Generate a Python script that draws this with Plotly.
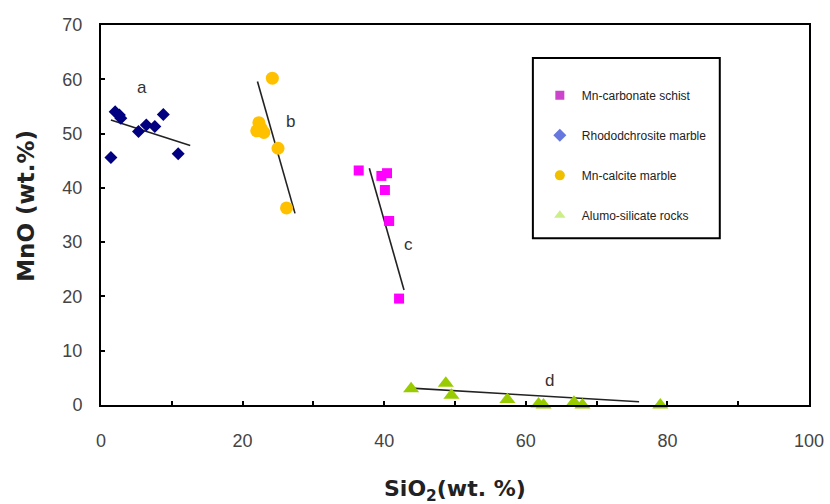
import plotly.graph_objects as go

# Data
rhodo_x = [1.4, 2.0, 2.6, 2.8, 5.3, 6.4, 7.6, 8.8, 10.9]
rhodo_y = [45.6, 54.0, 53.4, 52.8, 50.4, 51.6, 51.3, 53.5, 46.3]

calcite_x = [24.2, 22.0, 22.3, 22.6, 23.0, 25.0, 26.2]
calcite_y = [60.2, 50.5, 52.0, 51.0, 50.2, 47.3, 36.3]

schist_x = [36.4, 39.6, 40.4, 40.1, 40.7, 42.1]
schist_y = [43.2, 42.2, 42.7, 39.6, 33.9, 19.6]

alumo_x = [43.8, 48.7, 49.5, 57.4, 61.8, 62.5, 66.8, 68.0, 79.0]
alumo_y = [3.0, 4.0, 1.8, 1.0, 0.2, 0.0, 0.5, 0.0, 0.0]

# Trend lines (end points)
trend_a_x = [1.4, 12.6]
trend_a_y = [52.5, 47.8]
trend_b_x = [22.1, 27.4]
trend_b_y = [59.6, 35.3]
trend_c_x = [37.9, 42.8]
trend_c_y = [43.6, 21.2]
trend_d_x = [43.8, 76.0]
trend_d_y = [3.1, 0.6]

labels_text = ["a", "b", "c", "d"]
labels_x = [5.8, 26.8, 43.4, 63.3]
labels_y = [58.5, 52.2, 29.5, 4.6]

legend_names = ["Mn-carbonate schist", "Rhododchrosite marble",
                "Mn-calcite marble", "Alumo-silicate rocks"]

x_title = "<b>SiO<sub>2</sub>(wt. %)</b>"
y_title = "<b>MnO (wt.%)</b>"

fig = go.Figure()

# trend lines
for tx, ty in [(trend_a_x, trend_a_y), (trend_b_x, trend_b_y),
               (trend_c_x, trend_c_y), (trend_d_x, trend_d_y)]:
    fig.add_trace(go.Scatter(x=tx, y=ty, mode="lines",
                             line=dict(color="#222222", width=1.6),
                             showlegend=False, hoverinfo="skip"))

fig.add_trace(go.Scatter(x=schist_x, y=schist_y, mode="markers",
                         marker=dict(symbol="square", size=10, color="#ff00ff"),
                         showlegend=False))
fig.add_trace(go.Scatter(x=rhodo_x, y=rhodo_y, mode="markers",
                         marker=dict(symbol="diamond", size=10, color="#000080"),
                         showlegend=False))
fig.add_trace(go.Scatter(x=calcite_x, y=calcite_y, mode="markers",
                         marker=dict(symbol="circle", size=13, color="#ffc000"),
                         showlegend=False))
fig.add_trace(go.Scatter(x=alumo_x, y=alumo_y, mode="markers",
                         marker=dict(symbol="triangle-up", size=14, color="#99cc00"),
                         showlegend=False, cliponaxis=False))

# legend entries
leg_styles = [("square", "#cc44cc", 9), ("diamond", "#6677e0", 10),
              ("circle", "#f0c000", 10), ("triangle-up", "#ccee88", 10)]
for i, (name, (sym, col, sz)) in enumerate(zip(legend_names, leg_styles)):
    fig.add_trace(go.Scatter(x=[None], y=[None], mode="markers", name=name,
                             legendgroup=f"g{i}",
                             marker=dict(symbol=sym, size=sz, color=col)))

for t, lx, ly in zip(labels_text, labels_x, labels_y):
    fig.add_annotation(x=lx, y=ly, text=t, showarrow=False,
                       font=dict(family="Liberation Sans, Arial", size=17, color="#333333"))

# axis titles
fig.add_annotation(xref="paper", yref="paper", x=0.5, y=-0.224, text=x_title,
                   showarrow=False, xanchor="center", yanchor="middle",
                   font=dict(family="DejaVu Sans", size=22, color="#222222"))
fig.add_annotation(xref="paper", yref="paper", x=-0.106, y=0.524, text=y_title,
                   showarrow=False, xanchor="center", yanchor="middle", textangle=-90,
                   font=dict(family="DejaVu Sans", size=23, color="#222222"))

# legend frame
fig.add_shape(type="rect", xref="paper", yref="paper",
              x0=0.610, x1=0.874, y0=0.439, y1=0.913,
              line=dict(color="black", width=2), fillcolor="rgba(0,0,0,0)")

axis_common = dict(showline=True, linecolor="black", linewidth=2, mirror=True,
                   showgrid=False, zeroline=False, ticks="inside", ticklen=4,
                   tickcolor="black", tickwidth=2, automargin=False,
                   tickfont=dict(family="Liberation Sans, Arial", size=18, color="#444444"))

fig.update_layout(
    width=830, height=504,
    margin=dict(l=101, r=21, t=25, b=99),
    paper_bgcolor="white", plot_bgcolor="white",
    xaxis=dict(range=[0, 100], dtick=20, tick0=0, ticklabelstandoff=18,
               minor=dict(dtick=10, ticks="inside", ticklen=4, tickcolor="black", tickwidth=2),
               **axis_common),
    yaxis=dict(range=[0, 70], dtick=10, tick0=0, ticklabelstandoff=13,
               **axis_common),
    legend=dict(x=0.617, y=0.853, xanchor="left", yanchor="top",
                borderwidth=0, bgcolor="rgba(0,0,0,0)",
                tracegroupgap=21,
                font=dict(family="Liberation Sans, Arial", size=12, color="#222222"),
                itemwidth=34),
    showlegend=True,
)

fig.write_html("out.html", config={"displayModeBar": False},
               post_script="document.body.style.margin='0';")
